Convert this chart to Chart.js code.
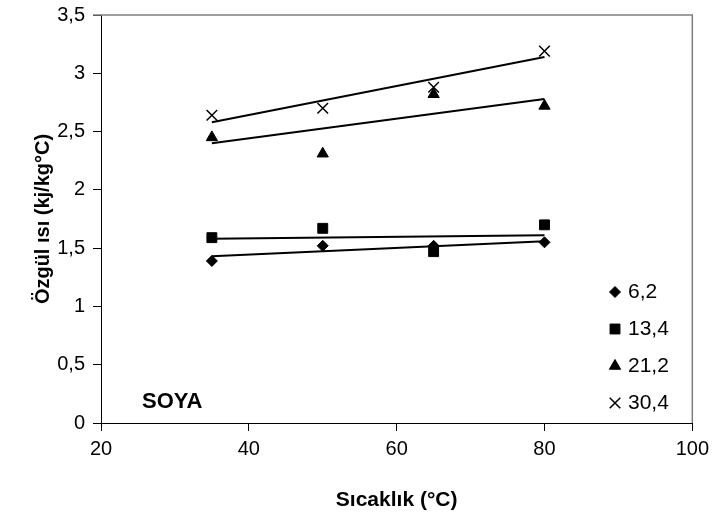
<!DOCTYPE html>
<html>
<head>
<meta charset="utf-8">
<script src="https://cdn.jsdelivr.net/npm/chart.js@4.4.1/dist/chart.umd.min.js"></script>
<style>
  html, body { margin: 0; padding: 0; background: #fff; }
  #wrap { width: 715px; height: 519px; }
</style>
</head>
<body>
<div id="wrap"><canvas id="ozgulChart"></canvas></div>
<script>
// values
var sicaklik = [35, 50, 65, 80];
var seri_62 = [1.39, 1.52, 1.52, 1.55];
var seri_134 = [1.59, 1.67, 1.47, 1.70];
var seri_212 = [2.45, 2.31, 2.82, 2.72];
var seri_304 = [2.64, 2.70, 2.88, 3.19];

// trend line ends (35 and 80)
var trend_x = [35, 80];
var trend_62 = [1.43, 1.56];
var trend_134 = [1.58, 1.61];
var trend_212 = [2.40, 2.78];
var trend_304 = [2.58, 3.14];

var seri_adlari = ["6,2", "13,4", "21,2", "30,4"];

function pts(xs, ys) {
  var out = [];
  for (var i = 0; i < xs.length; i++) {
    out.push({ x: xs[i], y: ys[i] });
  }
  return out;
}

function pointSet(label, ys, style, radius) {
  return {
    label: label,
    data: pts(sicaklik, ys),
    showLine: false,
    pointStyle: style,
    pointRadius: radius,
    pointHoverRadius: radius,
    pointBackgroundColor: "#000",
    pointBorderColor: "#000",
    pointBorderWidth: style === "crossRot" ? 1.5 : 1,
    order: 1,
  };
}

function trendSet(ys) {
  return {
    label: "trend",
    data: pts(trend_x, ys),
    showLine: true,
    borderColor: "#000",
    borderWidth: 2,
    pointRadius: 0,
    fill: false,
    order: 2,
  };
}

var fontName = "'Liberation Sans', Arial, sans-serif";

// gray frame, legend in the corner and the SOYA label
var extras = {
  id: "extras",
  afterDraw: function (chart) {
    var ctx = chart.ctx;
    var a = chart.chartArea;
    ctx.save();
    ctx.strokeStyle = "#7f7f7f";
    ctx.lineWidth = 1.5;
    ctx.beginPath();
    ctx.moveTo(a.left - 8, a.top);
    ctx.lineTo(a.right, a.top);
    ctx.lineTo(a.right, a.bottom);
    ctx.stroke();

    var sets = chart.data.datasets.filter(function (d) { return d.label !== "trend"; });
    ctx.font = "21px " + fontName;
    ctx.textBaseline = "middle";
    ctx.textAlign = "left";
    for (var i = 0; i < sets.length; i++) {
      var d = sets[i];
      var y = 292 + i * 37;
      ctx.fillStyle = "#000";
      ctx.strokeStyle = "#000";
      ctx.lineWidth = d.pointBorderWidth;
      Chart.helpers.drawPoint(ctx, {
        pointStyle: d.pointStyle,
        radius: d.pointRadius,
        rotation: 0,
        borderWidth: d.pointBorderWidth,
      }, 615, y);
      ctx.fillStyle = "#000";
      ctx.fillText(d.label, 628, y);
    }

    ctx.font = "bold 22px " + fontName;
    ctx.fillText("SOYA", a.left + 41, a.bottom - 21);
    ctx.restore();
  },
};

var ctx = document.getElementById("ozgulChart").getContext("2d");
var myChart = new Chart(ctx, {
  type: "scatter",
  data: {
    datasets: [
      pointSet(seri_adlari[0], seri_62, "rectRot", 5.5),
      pointSet(seri_adlari[1], seri_134, "rect", 7),
      pointSet(seri_adlari[2], seri_212, "triangle", 6.5),
      pointSet(seri_adlari[3], seri_304, "crossRot", 7.5),
      trendSet(trend_62),
      trendSet(trend_134),
      trendSet(trend_212),
      trendSet(trend_304),
    ],
  },
  options: {
    responsive: true,
    maintainAspectRatio: false,
    animation: false,
    layout: { padding: { left: 0, top: 15, right: 22, bottom: 0 } },
    plugins: {
      legend: { display: false },
      tooltip: { enabled: false },
    },
    scales: {
      x: {
        type: "linear",
        min: 20,
        max: 100,
        ticks: { stepSize: 20, color: "#000", padding: 6, font: { size: 20, family: fontName } },
        grid: { display: true, drawOnChartArea: false, drawTicks: true, tickLength: 8, color: "#000" },
        border: { display: true, color: "#000", width: 1 },
        title: {
          display: true,
          text: "Sıcaklık (°C)",
          color: "#000",
          font: { size: 21, weight: "bold", family: fontName },
          padding: { top: 4, bottom: 6 },
        },
        afterFit: function (scale) { scale.height = 96; },
      },
      y: {
        min: 0,
        max: 3.5,
        ticks: {
          stepSize: 0.5,
          color: "#000",
          padding: 8,
          font: { size: 20, family: fontName },
          callback: function (v) { return String(v).replace(".", ","); },
        },
        grid: { display: true, drawOnChartArea: false, drawTicks: true, tickLength: 8, color: "#000" },
        border: { display: true, color: "#000", width: 1 },
        title: {
          display: true,
          text: "Özgül ısı (kj/kg°C)",
          color: "#000",
          font: { size: 20, weight: "bold", family: fontName },
          padding: { top: 31, bottom: 4 },
        },
        afterFit: function (scale) {
          scale.width = 101;
          scale.paddingTop = 0;
          scale.paddingBottom = 0;
        },
      },
    },
  },
  plugins: [extras],
});
</script>
</body>
</html>
